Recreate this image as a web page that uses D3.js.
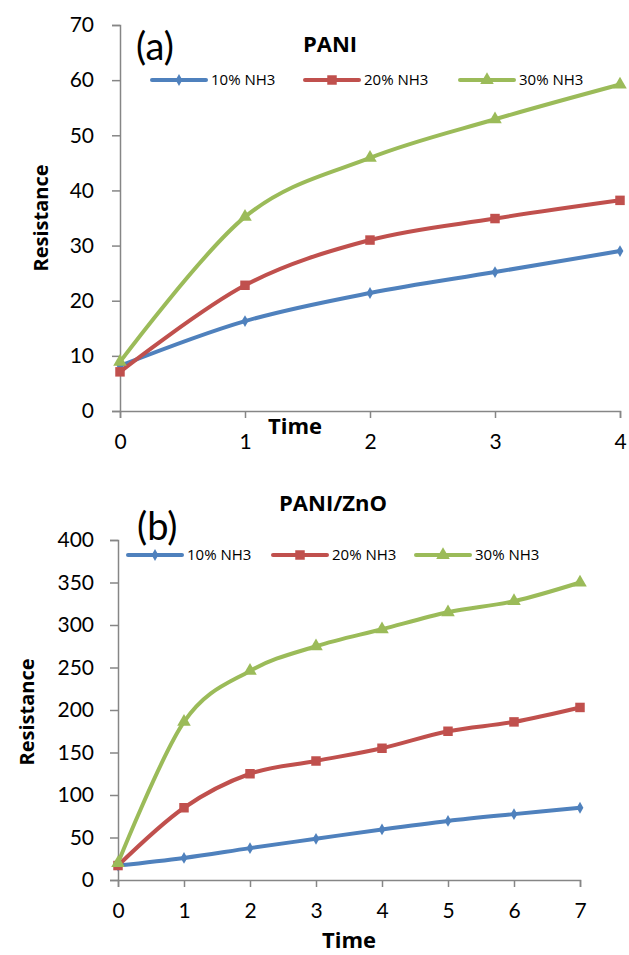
<!DOCTYPE html>
<html>
<head>
<meta charset="utf-8">
<script src="https://cdn.jsdelivr.net/npm/d3@7"></script>
<style>
  body { margin: 0; background: #fff; }
  svg text { font-family: Lato, "Open Sans", sans-serif; fill: #000; }
  svg text.bold { font-family: "Open Sans", sans-serif; font-weight: bold; }
</style>
</head>
<body>
<svg id="chart" width="629" height="955"></svg>
<script>
// data for panel (a) PANI
const timeA = [0, 1, 2, 3, 4];
const pani10 = [8.2, 16.3, 21.4, 25.2, 29.0];
const pani20 = [7.1, 22.8, 31.0, 34.9, 38.2];
const pani30 = [8.9, 35.2, 45.9, 52.9, 59.2];
const ticksA = [0, 10, 20, 30, 40, 50, 60, 70];

// data for panel (b) PANI/ZnO
const timeB = [0, 1, 2, 3, 4, 5, 6, 7];
const zno10 = [17, 26, 37.5, 48.5, 59.5, 69.5, 77.5, 85];
const zno20 = [17, 85, 125, 140, 155, 175, 186, 203];
const zno30 = [20, 186, 246, 275, 295, 315, 328, 350];
const ticksB = [0, 50, 100, 150, 200, 250, 300, 350, 400];

const seriesNames = ["10% NH3", "20% NH3", "30% NH3"];
const colors = ["#4F81BD", "#C0504D", "#9BBB59"];
const shapes = [d3.symbolDiamond, d3.symbolSquare, d3.symbolTriangle];
const symSize = [40, 90, 80];

const svg = d3.select("#chart");

function drawPanel(cfg) {
  const g = svg.append("g");
  const x = d3.scaleLinear().domain(cfg.xDomain).range([cfg.left, cfg.right]);
  const y = d3.scaleLinear().domain(cfg.yDomain).range([cfg.bottom, cfg.top]);

  // axes
  const yAxis = g.append("g")
      .attr("transform", "translate(" + cfg.left + ",0)")
      .call(d3.axisLeft(y).tickValues(cfg.yTicks).tickFormat(d3.format("d"))
        .tickSize(8).tickPadding(cfg.yPad));
  const xAxis = g.append("g")
      .attr("transform", "translate(0," + cfg.bottom + ")")
      .call(d3.axisBottom(x).tickValues(cfg.time).tickFormat(d3.format("d"))
        .tickSize(7).tickPadding(cfg.xPad));
  [yAxis, xAxis].forEach(a => {
    a.select(".domain").attr("stroke", "#868686").attr("stroke-width", 1.5);
    a.selectAll(".tick line").attr("stroke", "#868686").attr("stroke-width", 1.5);
    a.selectAll(".tick text").style("font-size", "21px").attr("fill", "#000");
  });

  // lines (smoothed like the original)
  const line = d3.line()
      .x((d, i) => x(cfg.time[i]))
      .y(d => y(d))
      .curve(d3.curveCatmullRom.alpha(0));
  cfg.series.forEach((vals, k) => {
    g.append("path")
        .datum(vals)
        .attr("d", line)
        .attr("fill", "none")
        .attr("stroke", colors[k])
        .attr("stroke-width", 4)
        .attr("stroke-linecap", "round");
  });
  cfg.series.forEach((vals, k) => {
    g.selectAll(".m" + k)
        .data(vals)
        .enter().append("path")
        .attr("transform", (d, i) => "translate(" + x(cfg.time[i]) + "," + y(d) + ")")
        .attr("d", d3.symbol().type(shapes[k]).size(symSize[k]))
        .attr("fill", colors[k]);
  });

  // labels
  g.append("text")
      .attr("class", "bold")
      .attr("transform", "translate(" + cfg.yLabelX + "," + cfg.yLabelY + ") rotate(-90)")
      .attr("text-anchor", "middle")
      .style("font-size", "20px")
      .text("Resistance");
  g.append("text")
      .attr("class", "bold")
      .attr("x", cfg.timeX).attr("y", cfg.timeY)
      .attr("text-anchor", "middle")
      .style("font-size", "22px")
      .text("Time");
  g.append("text")
      .attr("class", "bold")
      .attr("x", cfg.titleX).attr("y", cfg.titleY)
      .attr("text-anchor", "middle")
      .style("font-size", "22px")
      .text(cfg.title);
  g.append("text")
      .attr("x", cfg.tagX).attr("y", cfg.tagY)
      .style("font-size", "38px")
      .text(cfg.tag);

  // legend
  cfg.legendX.forEach((lx, k) => {
    g.append("line")
        .attr("x1", lx).attr("x2", lx + 54)
        .attr("y1", cfg.legendY).attr("y2", cfg.legendY)
        .attr("stroke", colors[k]).attr("stroke-width", 4)
        .attr("stroke-linecap", "round");
    g.append("path")
        .attr("transform", "translate(" + (lx + 27) + "," + cfg.legendY + ")")
        .attr("d", d3.symbol().type(shapes[k]).size(symSize[k]))
        .attr("fill", colors[k]);
    g.append("text")
        .attr("x", lx + 59).attr("y", cfg.legendY + 5)
        .style("font-family", "'Open Sans', sans-serif")
        .style("font-size", "15px")
        .text(seriesNames[k]);
  });
}

drawPanel({
  time: timeA, series: [pani10, pani20, pani30], yTicks: ticksA,
  xDomain: [0, 4], yDomain: [0, 70],
  left: 120, right: 620, top: 25, bottom: 411, xPad: 16, yPad: 18,
  yLabelX: 48, yLabelY: 218, timeX: 295, timeY: 434,
  title: "PANI", titleX: 330, titleY: 52,
  tag: "(a)", tagX: 136, tagY: 60,
  legendX: [152, 305, 460], legendY: 80
});

drawPanel({
  time: timeB, series: [zno10, zno20, zno30], yTicks: ticksB,
  xDomain: [0, 7], yDomain: [0, 400],
  left: 118, right: 580, top: 540, bottom: 880, xPad: 16, yPad: 16,
  yLabelX: 34, yLabelY: 712, timeX: 349, timeY: 948,
  title: "PANI/ZnO", titleX: 333, titleY: 511,
  tag: "(b)", tagX: 137, tagY: 540,
  legendX: [128, 273, 416], legendY: 555
});
</script>
</body>
</html>
